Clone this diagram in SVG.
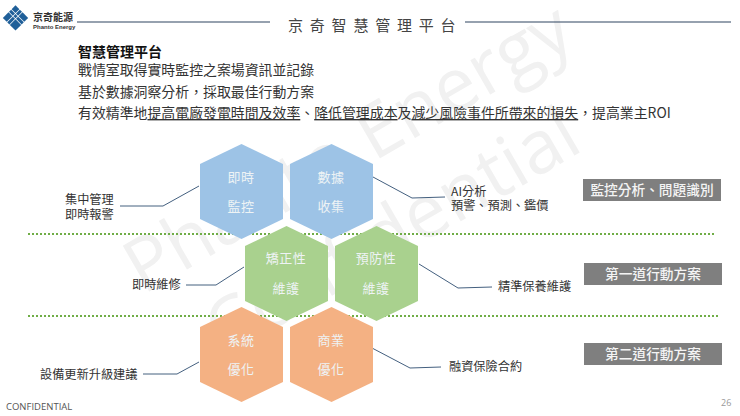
<svg xmlns="http://www.w3.org/2000/svg" width="740" height="416" viewBox="0 0 740 416">
<style>
text{font-family:"Noto Sans CJK TC","Noto Sans",sans-serif;fill:#333}
.wm{font-family:"Open Sans","Liberation Sans",sans-serif;font-size:74px;fill:#f1f1f1}
.hdr{font-size:15px;letter-spacing:6.8px;fill:#444}
.body{font-size:13.9px;fill:#333}
.lbl{font-size:12.2px;fill:#333}
.hx{font-size:13px;fill:#eef3f5;text-anchor:middle;letter-spacing:.5px}
.bx{font-size:13.7px;font-weight:500;fill:#f4f4f4;text-anchor:middle}
.box{fill:#7f7f7f}
.blue{fill:#9dc3e6}.green{fill:#a9d18e}.orange{fill:#f4b183}
.c{fill:none;stroke:#44607f;stroke-width:1}
.rule{stroke:#2f4560;stroke-width:1.2}
.dot{stroke:#70ad47;stroke-width:2;stroke-dasharray:2 2}
.lg{fill:#1f5f99}
</style>
<defs><polygon id="hex" points="41.5,0 83,20 83,75 41.5,95 0,75 0,20"/></defs>
<g id="watermark">
<text class="wm" transform="translate(143 295) rotate(-30)">Phanto Energy</text>
<text class="wm" transform="translate(224 358) rotate(-30)">Confidential</text>
</g>
<g id="logo">
<g transform="rotate(45 15.5 18)" class="lg">
<rect x="6.5" y="9" width="5.5" height="5.5"/><rect x="12.7" y="9" width="3" height="5.5"/><rect x="16.4" y="9" width="8" height="5.5"/>
<rect x="6.5" y="15.2" width="5.5" height="3"/><rect x="12.7" y="15.2" width="3" height="3"/><rect x="16.4" y="15.2" width="8" height="3"/>
<rect x="6.5" y="18.9" width="5.5" height="8"/><rect x="12.7" y="18.9" width="3" height="8"/><rect x="16.4" y="18.9" width="8" height="8"/>
</g>
<text x="33" y="21" style="font-size:10px;font-weight:700">京奇能源</text>
<text x="33" y="29" style="font-size:6px;font-weight:700;font-family:'Liberation Sans',sans-serif">Phanto Energy</text>
</g>
<g id="header">
<line class="rule" x1="77" y1="22" x2="270" y2="22"/>
<line class="rule" x1="465" y1="22" x2="731" y2="22"/>
<text class="hdr" x="288" y="31">京奇智慧管理平台</text>
</g>
<g id="intro">
<text x="78" y="57" style="font-size:14px;font-weight:700;fill:#111">智慧管理平台</text>
<text class="body" x="78" y="75">戰情室取得實時監控之案場資訊並記錄</text>
<text class="body" x="78" y="97">基於數據洞察分析，採取最佳行動方案</text>
<text class="body" x="78" y="118">有效精準地<tspan text-decoration="underline">提高電廠發電時間及效率</tspan>、<tspan text-decoration="underline">降低管理成本</tspan>及<tspan text-decoration="underline">減少風險事件所帶來的損失</tspan>，提高業主ROI</text>
</g>
<g id="dividers">
<line class="dot" x1="28" y1="234" x2="715" y2="234"/>
<line class="dot" x1="28" y1="316" x2="718" y2="316"/>
</g>
<g id="connectors">
<polyline class="c" points="120,206 163,206 199,186"/>
<polyline class="c" points="373,177 412,198 445,197"/>
<polyline class="c" points="186,285 216,285 244,267"/>
<polyline class="c" points="419,264 458,288 492,287"/>
<polyline class="c" points="143,374 177,374 199,362"/>
<polyline class="c" points="372,348 410,368 441,367"/>
</g>
<g id="hex-monitor"><use href="#hex" class="blue" x="200" y="144"/><text class="hx" x="241" y="182">即時</text><text class="hx" x="241" y="211">監控</text></g>
<g id="hex-data"><use href="#hex" class="blue" x="290" y="144"/><text class="hx" x="331" y="182">數據</text><text class="hx" x="331" y="211">收集</text></g>
<g id="hex-corrective"><use href="#hex" class="green" x="245" y="226"/><text class="hx" x="286" y="263">矯正性</text><text class="hx" x="286" y="293">維護</text></g>
<g id="hex-preventive"><use href="#hex" class="green" x="335" y="226"/><text class="hx" x="376" y="263">預防性</text><text class="hx" x="376" y="293">維護</text></g>
<g id="hex-system"><use href="#hex" class="orange" x="200" y="307"/><text class="hx" x="241" y="345">系統</text><text class="hx" x="241" y="374">優化</text></g>
<g id="hex-business"><use href="#hex" class="orange" x="290" y="307"/><text class="hx" x="331" y="345">商業</text><text class="hx" x="331" y="374">優化</text></g>
<g id="label-central"><text class="lbl" x="65" y="204">集中管理</text><text class="lbl" x="65" y="219">即時報警</text></g>
<g id="label-ai"><text class="lbl" x="451" y="196">AI分析</text><text class="lbl" x="451" y="210">預警、預測、鑑價</text></g>
<g id="label-repair"><text class="lbl" x="132" y="289">即時維修</text></g>
<g id="label-maintain"><text class="lbl" x="498" y="291">精準保養維護</text></g>
<g id="label-upgrade"><text class="lbl" x="40" y="379">設備更新升級建議</text></g>
<g id="label-finance"><text class="lbl" x="449" y="371">融資保險合約</text></g>
<g id="box-monitor"><rect class="box" x="583" y="179" width="138" height="22"/><text class="bx" x="652" y="195">監控分析、問題識別</text></g>
<g id="box-first"><rect class="box" x="584" y="263" width="138" height="22"/><text class="bx" x="653" y="279">第一道行動方案</text></g>
<g id="box-second"><rect class="box" x="584" y="343" width="138" height="22"/><text class="bx" x="653" y="359">第二道行動方案</text></g>
<g id="footer">
<text x="6" y="410" style="font-family:'Open Sans','Liberation Sans',sans-serif;font-size:9.5px;fill:#555">CONFIDENTIAL</text>
<text x="721" y="406" style="font-family:'Open Sans','Liberation Sans',sans-serif;font-size:9px;fill:#999">26</text>
</g>
</svg>
